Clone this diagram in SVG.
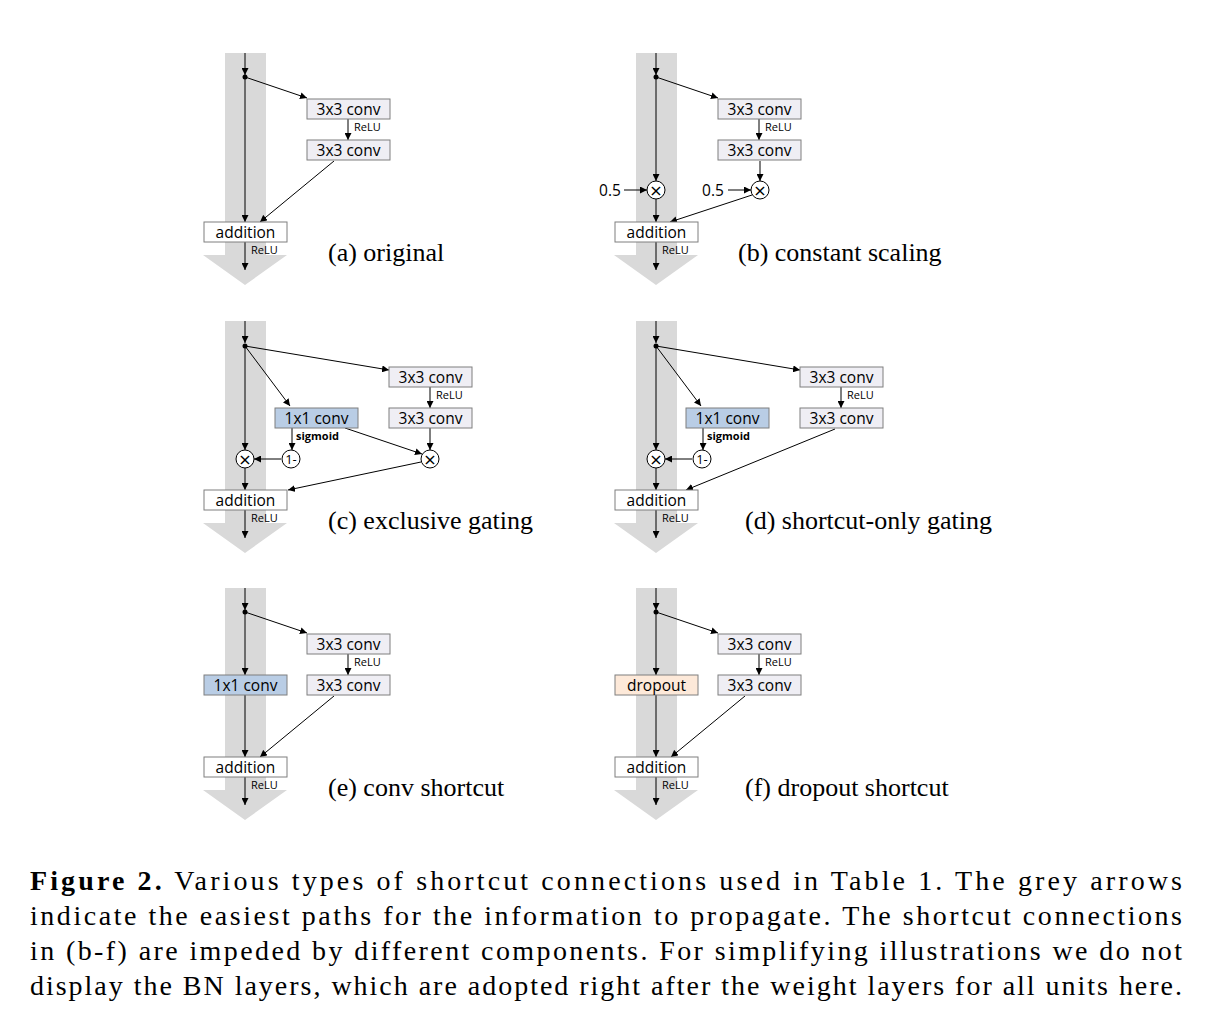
<svg xmlns="http://www.w3.org/2000/svg" width="1227" height="1025" viewBox="0 0 1227 1025">
<style>
.g{fill:#d9d9d9}
.b{fill:#efeef4;stroke:#7f7f7f;stroke-width:1}
.w{fill:#fff;stroke:#7f7f7f;stroke-width:1}
.bl{fill:#b9cde5;stroke:#7f7f7f;stroke-width:1}
.pe{fill:#fde9d9;stroke:#7f7f7f;stroke-width:1}
.t{font-family:"Open Sans","DejaVu Sans",sans-serif;font-size:15.5px;text-anchor:middle;fill:#000}
.x{font-family:"DejaVu Sans",sans-serif;font-size:16px;text-anchor:middle;fill:#000}
.r{font-family:"Open Sans","DejaVu Sans",sans-serif;font-size:11px;fill:#000}
.sg{font-family:"Open Sans","DejaVu Sans",sans-serif;font-size:11px;font-weight:bold;fill:#000}
.c{fill:#fff;stroke:#000;stroke-width:1}
.cap{font-family:"Liberation Serif",serif;font-size:26px;fill:#000}
.fc{font-family:"Liberation Serif",serif;font-size:28px;fill:#000}
.l{stroke:#000;stroke-width:1;fill:none;marker-end:url(#a)}
</style>
<defs>
<marker id="a" viewBox="0 0 10 10" refX="10" refY="5" markerWidth="7" markerHeight="7" orient="auto" markerUnits="userSpaceOnUse"><path d="M0,0 L10,5 L0,10z" fill="#000"/></marker>
<polygon id="ga" points="225,53 266,53 266,255 287,255 245,285 203,255 225,255"/>
</defs>
<g id="greyarrows" class="g">
<use href="#ga"/><use href="#ga" x="411"/>
<use href="#ga" y="268"/><use href="#ga" x="411" y="268"/>
<use href="#ga" y="535"/><use href="#ga" x="411" y="535"/>
</g>
<g id="connectors">
<path class="l" d="M245,53 V75"/><path class="l" d="M245,77 V222"/><path class="l" d="M245,77 L307,98"/>
<path class="l" d="M348,119 V140"/><path class="l" d="M334,161 L260,222"/><path class="l" d="M245,242 V270"/>
<path class="l" d="M656,53 V75"/><path class="l" d="M656,77 V181"/><path class="l" d="M656,199 V222"/><path class="l" d="M656,77 L718,98"/>
<path class="l" d="M759,119 V140"/><path class="l" d="M760,161 V181"/><path class="l" d="M752,195 L670,222"/><path class="l" d="M656,242 V270"/>
<path class="l" d="M624,190 H647"/><path class="l" d="M728,190 H751"/>
<path class="l" d="M245,321 V343"/><path class="l" d="M245,346 V450"/><path class="l" d="M245,468 V490"/><path class="l" d="M245,346 L389,370"/>
<path class="l" d="M245,346 L290,406"/><path class="l" d="M430,387 V408"/><path class="l" d="M430,428 V450"/>
<path class="l" d="M292,428 V450"/><path class="l" d="M281,459 H254"/><path class="l" d="M345,428 L422,454"/>
<path class="l" d="M421,462 L288,490"/><path class="l" d="M245,510 V538"/>
<path class="l" d="M656,321 V343"/><path class="l" d="M656,346 V450"/><path class="l" d="M656,468 V490"/><path class="l" d="M656,346 L800,370"/>
<path class="l" d="M656,346 L701,406"/><path class="l" d="M841,387 V408"/>
<path class="l" d="M703,428 V450"/><path class="l" d="M692,459 H665"/>
<path class="l" d="M835,429 L686,490"/><path class="l" d="M656,510 V538"/>
<path class="l" d="M245,588 V610"/><path class="l" d="M245,612 V675"/><path class="l" d="M245,695 V757"/><path class="l" d="M245,612 L307,633"/>
<path class="l" d="M348,654 V675"/><path class="l" d="M334,696 L260,757"/><path class="l" d="M245,777 V805"/>
<path class="l" d="M656,588 V610"/><path class="l" d="M656,612 V675"/><path class="l" d="M656,695 V757"/><path class="l" d="M656,612 L718,633"/>
<path class="l" d="M759,654 V675"/><path class="l" d="M745,696 L671,757"/><path class="l" d="M656,777 V805"/>
</g>
<g id="dots" fill="#000">
<circle cx="245" cy="77" r="2.5"/><circle cx="656" cy="77" r="2.5"/>
<circle cx="245" cy="346" r="2.5"/><circle cx="656" cy="346" r="2.5"/>
<circle cx="245" cy="612" r="2.5"/><circle cx="656" cy="612" r="2.5"/>
</g>
<g id="panel-a">
<g id="a-conv1"><rect class="b" x="307" y="99" width="83" height="20"/><text class="t" x="348.5" y="115">3x3 conv</text></g>
<text class="r" x="354" y="131">ReLU</text>
<g id="a-conv2"><rect class="b" x="307" y="140" width="83" height="20"/><text class="t" x="348.5" y="156">3x3 conv</text></g>
<g id="a-add"><rect class="w" x="204" y="222" width="83" height="20"/><text class="t" x="245.5" y="238">addition</text></g>
<text class="r" x="251" y="254">ReLU</text>
<text class="cap" x="328" y="261">(a) original</text>
</g>
<g id="panel-b">
<g id="b-conv1"><rect class="b" x="718" y="99" width="83" height="20"/><text class="t" x="759.5" y="115">3x3 conv</text></g>
<text class="r" x="765" y="131">ReLU</text>
<g id="b-conv2"><rect class="b" x="718" y="140" width="83" height="20"/><text class="t" x="759.5" y="156">3x3 conv</text></g>
<g id="b-m1"><circle class="c" cx="656" cy="190" r="9"/><text class="x" x="656" y="196">×</text></g>
<g id="b-m2"><circle class="c" cx="760" cy="190" r="9"/><text class="x" x="760" y="196">×</text></g>
<text class="t" x="610" y="196">0.5</text><text class="t" x="713" y="196">0.5</text>
<g id="b-add"><rect class="w" x="615" y="222" width="83" height="20"/><text class="t" x="656.5" y="238">addition</text></g>
<text class="r" x="662" y="254">ReLU</text>
<text class="cap" x="738" y="261">(b) constant scaling</text>
</g>
<g id="panel-c">
<g id="c-conv1"><rect class="b" x="389" y="367" width="83" height="20"/><text class="t" x="430.5" y="383">3x3 conv</text></g>
<text class="r" x="436" y="399">ReLU</text>
<g id="c-conv2"><rect class="b" x="389" y="408" width="83" height="20"/><text class="t" x="430.5" y="424">3x3 conv</text></g>
<g id="c-gate"><rect class="bl" x="275" y="408" width="83" height="20"/><text class="t" x="316.5" y="424">1x1 conv</text></g>
<text class="sg" x="296" y="440">sigmoid</text>
<g id="c-m1"><circle class="c" cx="245" cy="459" r="9"/><text class="x" x="245" y="465">×</text></g>
<g id="c-inv"><circle class="c" cx="291" cy="459" r="9"/><text class="t" x="291" y="464" style="font-size:13px">1-</text></g>
<g id="c-m2"><circle class="c" cx="430" cy="459" r="9"/><text class="x" x="430" y="465">×</text></g>
<g id="c-add"><rect class="w" x="204" y="490" width="83" height="20"/><text class="t" x="245.5" y="506">addition</text></g>
<text class="r" x="251" y="522">ReLU</text>
<text class="cap" x="328" y="529">(c) exclusive gating</text>
</g>
<g id="panel-d">
<g id="d-conv1"><rect class="b" x="800" y="367" width="83" height="20"/><text class="t" x="841.5" y="383">3x3 conv</text></g>
<text class="r" x="847" y="399">ReLU</text>
<g id="d-conv2"><rect class="b" x="800" y="408" width="83" height="20"/><text class="t" x="841.5" y="424">3x3 conv</text></g>
<g id="d-gate"><rect class="bl" x="686" y="408" width="83" height="20"/><text class="t" x="727.5" y="424">1x1 conv</text></g>
<text class="sg" x="707" y="440">sigmoid</text>
<g id="d-m1"><circle class="c" cx="656" cy="459" r="9"/><text class="x" x="656" y="465">×</text></g>
<g id="d-inv"><circle class="c" cx="702" cy="459" r="9"/><text class="t" x="702" y="464" style="font-size:13px">1-</text></g>
<g id="d-add"><rect class="w" x="615" y="490" width="83" height="20"/><text class="t" x="656.5" y="506">addition</text></g>
<text class="r" x="662" y="522">ReLU</text>
<text class="cap" x="745" y="529">(d) shortcut-only gating</text>
</g>
<g id="panel-e">
<g id="e-conv1"><rect class="b" x="307" y="634" width="83" height="20"/><text class="t" x="348.5" y="650">3x3 conv</text></g>
<text class="r" x="354" y="666">ReLU</text>
<g id="e-conv2"><rect class="b" x="307" y="675" width="83" height="20"/><text class="t" x="348.5" y="691">3x3 conv</text></g>
<g id="e-sc"><rect class="bl" x="204" y="675" width="83" height="20"/><text class="t" x="245.5" y="691">1x1 conv</text></g>
<g id="e-add"><rect class="w" x="204" y="757" width="83" height="20"/><text class="t" x="245.5" y="773">addition</text></g>
<text class="r" x="251" y="789">ReLU</text>
<text class="cap" x="328" y="796">(e) conv shortcut</text>
</g>
<g id="panel-f">
<g id="f-conv1"><rect class="b" x="718" y="634" width="83" height="20"/><text class="t" x="759.5" y="650">3x3 conv</text></g>
<text class="r" x="765" y="666">ReLU</text>
<g id="f-conv2"><rect class="b" x="718" y="675" width="83" height="20"/><text class="t" x="759.5" y="691">3x3 conv</text></g>
<g id="f-sc"><rect class="pe" x="615" y="675" width="83" height="20"/><text class="t" x="656.5" y="691">dropout</text></g>
<g id="f-add"><rect class="w" x="615" y="757" width="83" height="20"/><text class="t" x="656.5" y="773">addition</text></g>
<text class="r" x="662" y="789">ReLU</text>
<text class="cap" x="745" y="796">(f) dropout shortcut</text>
</g>
<g id="caption">
<text class="fc" x="30" y="890" textLength="1152" lengthAdjust="spacing"><tspan font-weight="bold">Figure 2.</tspan> Various types of shortcut connections used in Table 1. The grey arrows</text>
<text class="fc" x="30" y="925" textLength="1152" lengthAdjust="spacing">indicate the easiest paths for the information to propagate. The shortcut connections</text>
<text class="fc" x="30" y="960" textLength="1152" lengthAdjust="spacing">in (b-f) are impeded by different components. For simplifying illustrations we do not</text>
<text class="fc" x="30" y="995" textLength="1152" lengthAdjust="spacing">display the BN layers, which are adopted right after the weight layers for all units here.</text>
</g>
</svg>
